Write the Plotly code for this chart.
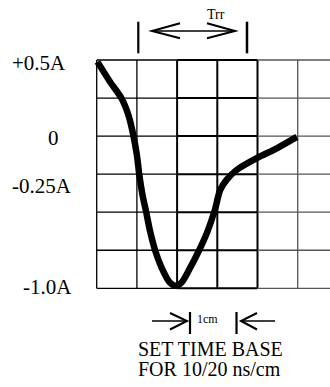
import plotly.graph_objects as go

# ---- data (grid divisions: x = time divisions, y = divisions below top line)
curve_x = [0.02, 0.33, 0.62, 0.79, 0.91, 1.00, 1.06, 1.14, 1.23, 1.33, 1.45, 1.62,
           1.82, 1.95, 2.11, 2.32, 2.53, 2.74, 2.94, 3.07, 3.23, 3.48, 3.98, 4.48, 4.98]
curve_y = [0.05, 0.57, 1.01, 1.45, 1.97, 2.50, 3.02, 3.55, 3.99, 4.51, 4.99, 5.47,
           5.85, 5.93, 5.85, 5.47, 5.04, 4.55, 3.94, 3.42, 3.15, 2.89, 2.58, 2.32, 2.02]
n_cols = 5
n_rows = 6
y_labels = ["+0.5A", "0", "-0.25A", "-1.0A"]

W, H = 330, 387
X0, DX = 96.7, 40.2   # pixel of first vertical line, px per division
Y0, DY = 60.0, 38.05  # pixel of top horizontal line, px per division

def px(x):
    return x / W

def py(y):
    return 1 - y / H

FONT = "Liberation Serif, Times New Roman, serif"

fig = go.Figure()
fig.add_trace(go.Scatter(x=curve_x, y=curve_y, mode="lines",
                         line=dict(color="black", width=6.5, shape="spline", smoothing=0.8),
                         hoverinfo="skip", showlegend=False))

shapes = []
xr_end = (W - X0) / DX
# vertical grid lines
for j in range(n_cols + 1):
    if j in (2, 3, 4):
        w, c = 2.0, "black"
    elif j == 5:
        w, c = 1.3, "#555555"
    else:
        w, c = 1.3, "black"
    shapes.append(dict(type="line", xref="x", yref="y", x0=j, x1=j, y0=0, y1=n_rows,
                       line=dict(color=c, width=w), layer="below"))
# horizontal grid lines (segments)
for i in range(n_rows + 1):
    shapes.append(dict(type="line", xref="x", yref="y", x0=0, x1=2, y0=i, y1=i,
                       line=dict(color="black", width=1.3), layer="below"))
    shapes.append(dict(type="line", xref="x", yref="y", x0=2, x1=4, y0=i, y1=i,
                       line=dict(color="black", width=2.0), layer="below"))
    shapes.append(dict(type="line", xref="x", yref="y", x0=4, x1=xr_end, y0=i, y1=i,
                       line=dict(color="#555555", width=1.3), layer="below"))

def seg(points, width=2.0):
    d = "M " + " L ".join(f"{px(a):.5f},{py(b):.5f}" for a, b in points)
    return dict(type="path", xref="paper", yref="paper", path=d,
                line=dict(color="black", width=width))

# Trr arrow
shapes += [
    seg([(138.3, 21.7), (138.3, 53.3)], 2.2),
    seg([(247, 21.7), (247, 53.3)], 2.5),
    seg([(152, 31), (235, 31)], 1.7),
    seg([(180, 23.3), (152, 31), (180, 38.3)], 2.0),
    seg([(207, 23.3), (235, 31), (207, 38.3)], 2.0),
]
# 1cm arrows
shapes += [
    seg([(152, 321), (187, 321)], 1.7),
    seg([(170, 313), (187, 321), (170, 329.5)], 2.0),
    seg([(190, 312), (190, 334)], 2.2),
    seg([(236.5, 312), (236.5, 334)], 2.2),
    seg([(241, 321), (275, 321)], 1.7),
    seg([(257, 313), (241, 321), (257, 329.5)], 2.0),
]

def ann(text, x, y, size):
    return dict(text=text, x=px(x), y=py(y), xref="paper", yref="paper",
                xanchor="center", yanchor="middle", showarrow=False,
                font=dict(family=FONT, size=size, color="black"))

label_pos = [(38.5, 63), (53, 137.5), (42, 185.5), (47, 286.5)]
annotations = [ann(t, x, y, 21) for t, (x, y) in zip(y_labels, label_pos)]
annotations += [
    ann("Trr", 216, 15, 14),
    ann("1cm", 207.5, 319, 12),
    ann("SET TIME BASE", 210, 348.5, 20),
    ann("FOR 10/20 ns/cm", 209, 369, 20),
]

fig.update_layout(
    width=W, height=H, margin=dict(l=0, r=0, t=0, b=0),
    paper_bgcolor="white", plot_bgcolor="white",
    xaxis=dict(range=[(0 - X0) / DX, (W - X0) / DX], visible=False, fixedrange=True),
    yaxis=dict(range=[(H - Y0) / DY, (0 - Y0) / DY], visible=False, fixedrange=True),
    shapes=shapes, annotations=annotations, showlegend=False,
)

fig.write_html("out.html", config={"displayModeBar": False},
               post_script="document.body.style.margin='0';document.body.style.padding='0';document.body.style.overflow='hidden';")
